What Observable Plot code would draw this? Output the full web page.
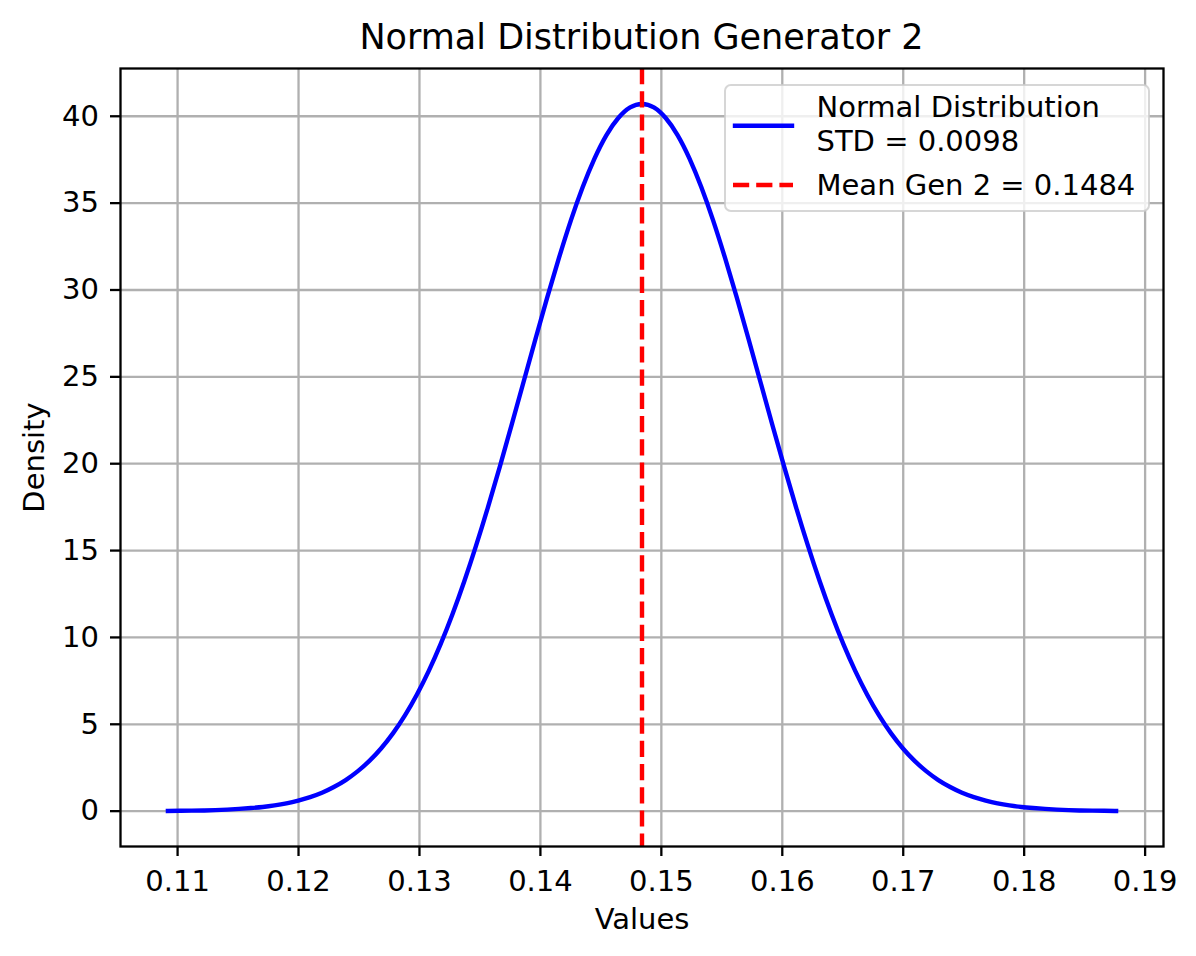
<!DOCTYPE html>
<html>
<head>
<meta charset="utf-8">
<script src="https://cdn.jsdelivr.net/npm/d3@7"></script>
<script src="https://cdn.jsdelivr.net/npm/@observablehq/plot@0.6"></script>
<style>
  body { margin: 0; background: #fff; font-family: "DejaVu Sans", sans-serif; }
  #wrap { position: relative; width: 1196px; height: 956px; background: #fff; }
  #titlebar { position: relative; height: 60px; }
  #title { position: absolute; left: 120px; width: 1043px; top: 20px; text-align: center;
           font-size: 35px; line-height: 35px; color: #000; white-space: nowrap; }
  #legend { position: absolute; left: 724px; top: 84px; }
</style>
</head>
<body>
<div id="wrap">
  <div id="titlebar"><div id="title">Normal Distribution Generator 2</div></div>
  <div id="chart"></div>
  <svg id="legend" width="426" height="129" xmlns="http://www.w3.org/2000/svg"></svg>
</div>
<script>
// ---- data ----
const xValues = [
  0.10920, 0.11018, 0.11116, 0.11214, 0.11312, 0.11410, 0.11508, 0.11606, 0.11704, 0.11802,
  0.11900, 0.11998, 0.12096, 0.12194, 0.12292, 0.12390, 0.12488, 0.12586, 0.12684, 0.12782,
  0.12880, 0.12978, 0.13076, 0.13174, 0.13272, 0.13370, 0.13468, 0.13566, 0.13664, 0.13762,
  0.13860, 0.13958, 0.14056, 0.14154, 0.14252, 0.14350, 0.14448, 0.14546, 0.14644, 0.14742,
  0.14840,
  0.14938, 0.15036, 0.15134, 0.15232, 0.15330, 0.15428, 0.15526, 0.15624, 0.15722, 0.15820,
  0.15918, 0.16016, 0.16114, 0.16212, 0.16310, 0.16408, 0.16506, 0.16604, 0.16702, 0.16800,
  0.16898, 0.16996, 0.17094, 0.17192, 0.17290, 0.17388, 0.17486, 0.17584, 0.17682, 0.17780,
  0.17878, 0.17976, 0.18074, 0.18172, 0.18270, 0.18368, 0.18466, 0.18564, 0.18662, 0.18760
];
const densityValues = [
  0.01, 0.02, 0.03, 0.04, 0.06, 0.09, 0.13, 0.18, 0.24, 0.33,
  0.45, 0.61, 0.81, 1.06, 1.39, 1.79, 2.29, 2.89, 3.62, 4.49,
  5.51, 6.70, 8.06, 9.60, 11.32, 13.22, 15.28, 17.49, 19.82, 22.23,
  24.69, 27.15, 29.56, 31.86, 34.01, 35.93, 37.58, 38.92, 39.90, 40.51,
  40.71,
  40.51, 39.90, 38.92, 37.58, 35.93, 34.01, 31.86, 29.56, 27.15, 24.69,
  22.23, 19.82, 17.49, 15.28, 13.22, 11.32, 9.60, 8.06, 6.70, 5.51,
  4.49, 3.62, 2.89, 2.29, 1.79, 1.39, 1.06, 0.81, 0.61, 0.45,
  0.33, 0.24, 0.18, 0.13, 0.09, 0.06, 0.04, 0.03, 0.02, 0.01
];
const meanValue = 0.1484;
const stdValue = 0.0098;
const xTicks = [0.11, 0.12, 0.13, 0.14, 0.15, 0.16, 0.17, 0.18, 0.19];
const yTicks = [0, 5, 10, 15, 20, 25, 30, 35, 40];
const titleText = "Normal Distribution Generator 2";
const xLabel = "Values";
const yLabel = "Density";
const legendLabels = ["Normal Distribution", "STD = " + stdValue.toFixed(4), "Mean Gen 2 = " + meanValue.toFixed(4)];

const curve = xValues.map((x, i) => ({x, y: densityValues[i]}));

const lw = 4.4, gw = 2.3;
const chart = Plot.plot({
  width: 1196,
  height: 896,
  marginTop: 8,
  marginBottom: 110,
  marginLeft: 120,
  marginRight: 33,
  style: {fontFamily: "DejaVu Sans", fontSize: "29px", color: "#000", background: "#fff", overflow: "visible"},
  x: {domain: [0.10528, 0.19152]},
  y: {domain: [-2.035, 42.75]},
  marks: [
    Plot.gridX(xTicks, {stroke: "#b0b0b0", strokeOpacity: 1, strokeWidth: gw}),
    Plot.gridY(yTicks, {stroke: "#b0b0b0", strokeOpacity: 1, strokeWidth: gw}),
    Plot.line(curve, {x: "x", y: "y", stroke: "#0000ff", strokeWidth: lw, curve: "natural", strokeLinecap: "square"}),
    Plot.ruleX([meanValue], {stroke: "#ff0000", strokeWidth: lw, strokeDasharray: "16.2,7"}),
    Plot.axisX(xTicks, {tickSize: 10, tickPadding: 13.5, strokeWidth: gw, tickFormat: d3.format(".2f"),
      fontSize: 29, label: xLabel, labelAnchor: "center", labelArrow: "none", labelOffset: 82}),
    Plot.axisY(yTicks, {tickSize: 10, tickPadding: 11.5, strokeWidth: gw, tickFormat: d3.format("d"),
      fontSize: 29, label: yLabel, labelAnchor: "center", labelArrow: "none", labelOffset: 97}),
    Plot.frame({stroke: "#000", strokeWidth: gw})
  ]
});
document.getElementById("chart").appendChild(chart);
document.getElementById("title").textContent = titleText;

// legend overlay
const lg = d3.select("#legend");
lg.append("rect").attr("x", 1).attr("y", 1).attr("width", 424).attr("height", 126).attr("rx", 5.8)
  .attr("fill", "rgba(255,255,255,0.8)").attr("stroke", "rgba(204,204,204,0.8)").attr("stroke-width", 2);
lg.append("line").attr("x1", 11).attr("x2", 68).attr("y1", 41.7).attr("y2", 41.7)
  .attr("stroke", "#0000ff").attr("stroke-width", lw).attr("stroke-linecap", "square");
lg.append("line").attr("x1", 9).attr("x2", 69).attr("y1", 101).attr("y2", 101)
  .attr("stroke", "#ff0000").attr("stroke-width", lw).attr("stroke-dasharray", "16.2,7");
const baselines = [33.3, 66.7, 111];
legendLabels.forEach((t, i) => {
  lg.append("text").attr("x", 92.5).attr("y", baselines[i]).attr("font-family", "DejaVu Sans")
    .attr("font-size", 29).attr("fill", "#000").text(t);
});
</script>
</body>
</html>
